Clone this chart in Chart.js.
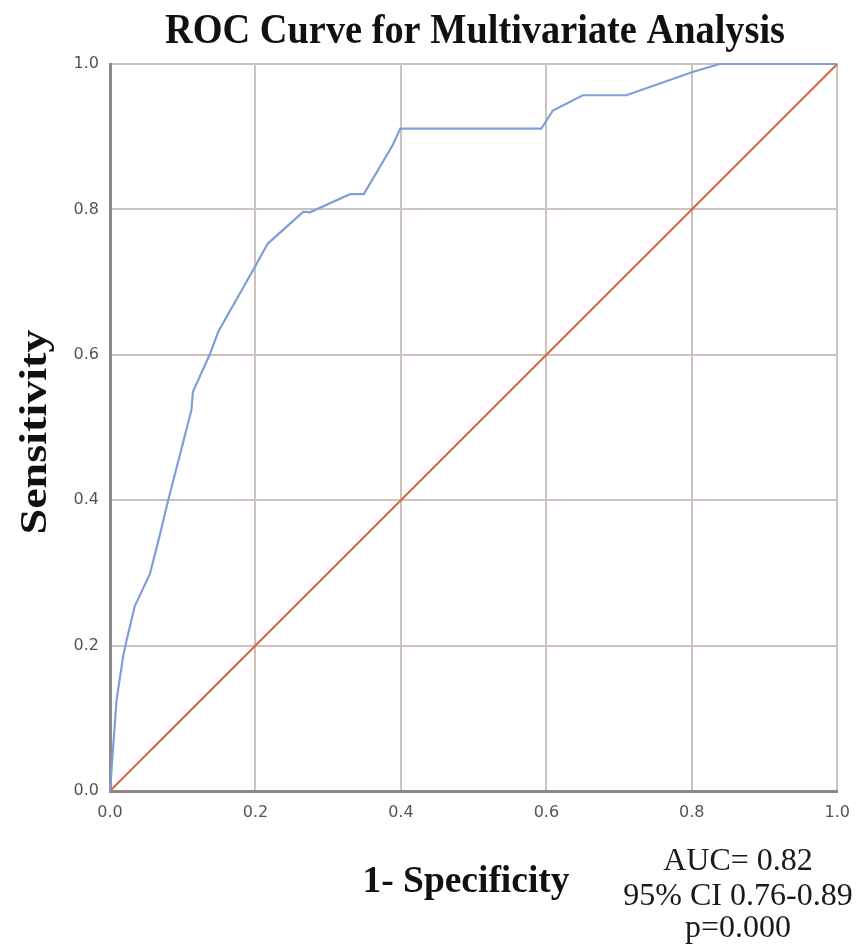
<!DOCTYPE html>
<html>
<head>
<meta charset="utf-8">
<script src="https://cdn.jsdelivr.net/npm/chart.js@4.4.1/dist/chart.umd.min.js"></script>
<style>
html,body{margin:0;padding:0;background:#fff;}
#wrap{width:862px;height:950px;}
</style>
</head>
<body>
<div id="wrap"><canvas id="c" width="862" height="950"></canvas></div>
<script>
// ---- data ----
const rocFpr = [0, 0.009, 0.018, 0.023, 0.034, 0.055, 0.069, 0.080, 0.112, 0.114, 0.137, 0.149, 0.197, 0.217, 0.266, 0.275, 0.330, 0.349, 0.389, 0.399, 0.593, 0.602, 0.609, 0.650, 0.710, 0.801, 0.838, 1.0];
const rocTpr = [0, 0.125, 0.185, 0.208, 0.254, 0.299, 0.354, 0.400, 0.524, 0.549, 0.600, 0.632, 0.717, 0.753, 0.797, 0.796, 0.821, 0.821, 0.889, 0.911, 0.911, 0.925, 0.936, 0.957, 0.957, 0.989, 1.0, 1.0];
const refX = [0, 1];
const refY = [0, 1];
const tickValues = [0, 0.2, 0.4, 0.6, 0.8, 1.0];
const chartTitle = 'ROC Curve for Multivariate Analysis';
const xTitle = '1- Specificity';
const yTitle = 'Sensitivity';
const statLines = ['AUC= 0.82', '95% CI 0.76-0.89', 'p=0.000'];

const rocPoints = rocFpr.map((x, i) => ({x: x, y: rocTpr[i]}));
const refPoints = refX.map((x, i) => ({x: x, y: refY[i]}));

function fitText(ctx, text, x, y, font, width, align) {
  ctx.save();
  ctx.font = font;
  const w = ctx.measureText(text).width;
  const sx = width / w;
  ctx.translate(x, y);
  ctx.scale(sx, 1);
  ctx.textAlign = align;
  ctx.textBaseline = 'alphabetic';
  ctx.fillText(text, 0, 0);
  ctx.restore();
}

const textPlugin = {
  id: 'texts',
  afterDraw(chart) {
    const ctx = chart.ctx;
    ctx.save();
    ctx.fillStyle = '#111';
    fitText(ctx, chartTitle, 475, 43, 'bold 43px "Liberation Serif"', 620, 'center');
    fitText(ctx, xTitle, 466, 892, 'bold 37px "Liberation Serif"', 207, 'center');
    ctx.save();
    ctx.translate(46, 432);
    ctx.rotate(-Math.PI / 2);
    fitText(ctx, yTitle, 0, 0, 'bold 38px "Liberation Serif"', 205, 'center');
    ctx.restore();
    ctx.fillStyle = '#1a1a1a';
    const base = [870, 905, 937];
    statLines.forEach((t, i) => {
      ctx.font = '32px "Liberation Serif"';
      ctx.textAlign = 'center';
      ctx.textBaseline = 'alphabetic';
      ctx.fillText(t, 738, base[i]);
    });
    ctx.restore();
  }
};

new Chart(document.getElementById('c'), {
  type: 'scatter',
  data: {
    datasets: [
      {data: rocPoints, showLine: true, borderColor: '#7f9fd6', borderWidth: 2.2, pointRadius: 0, tension: 0, clip: 4},
      {data: refPoints, showLine: true, borderColor: '#d8604c', borderWidth: 2, pointRadius: 0, tension: 0, clip: 4}
    ]
  },
  options: {
    responsive: false,
    animation: false,
    events: [],
    layout: {padding: {top: 64, right: 24, left: 0, bottom: 0}},
    plugins: {legend: {display: false}, title: {display: false}, tooltip: {enabled: false}},
    scales: {
      x: {
        type: 'linear', min: 0, max: 1,
        afterFit(s) { s.height = 159; },
        afterBuildTicks(s) { s.ticks = tickValues.map(v => ({value: v})); },
        ticks: {padding: 12, color: '#555', font: {family: 'DejaVu Sans', size: 16}, callback: v => Number(v).toFixed(1), maxRotation: 0},
        grid: {color: '#cdc2bc', lineWidth: 2, drawTicks: false},
        border: {color: '#8e8885', width: 3}
      },
      y: {
        type: 'linear', min: 0, max: 1,
        afterFit(s) { s.width = 110; },
        afterBuildTicks(s) { s.ticks = tickValues.map(v => ({value: v})); },
        ticks: {padding: 11, color: '#555', font: {family: 'DejaVu Sans', size: 16}, callback: v => Number(v).toFixed(1)},
        grid: {color: '#cdc2bc', lineWidth: 2, drawTicks: false},
        border: {color: '#8e8885', width: 3}
      }
    }
  },
  plugins: [textPlugin]
});
</script>
</body>
</html>
